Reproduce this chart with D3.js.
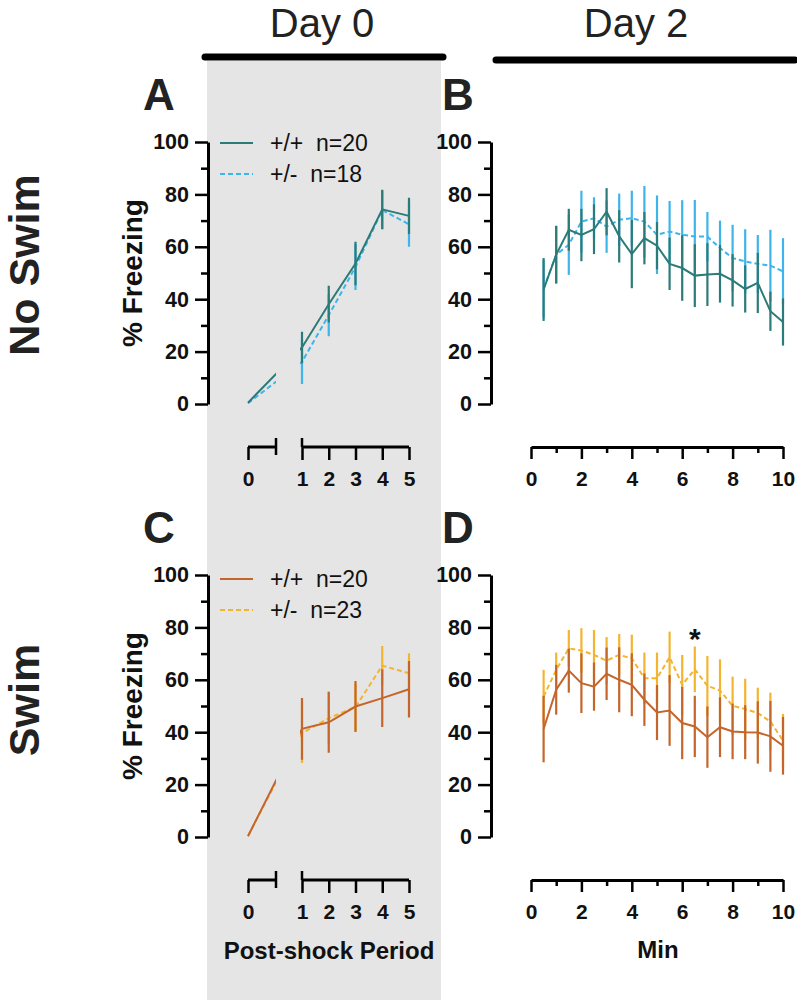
<!DOCTYPE html>
<html>
<head>
<meta charset="UTF-8">
<style>
  body { margin: 0; background: #fff; }
  svg { display: block; font-family: "Liberation Sans", Arial, sans-serif; }
</style>
</head>
<body>
<svg></svg>
<script src="https://d3js.org/d3.v7.min.js"></script>
<script>

// ---- data ----
// Day 0, post-shock periods (0 = pre-shock baseline)
let periods = [0, 1, 2, 3, 4, 5];
let periodTicks = [0, 1, 2, 3, 4, 5];

// A: No Swim, Day 0
let aWT = [0.5, 21.6, 38.1, 53.6, 74.3, 71.8];
let aWTsem = [0, 6, 7, 8.3, 7.5, 6.9];
let aHet = [0.3, 16.1, 33.9, 52.3, 74, 68.6];
let aHetSem = [0, 8.5, 8, 8.8, 7.4, 8.6];

// C: Swim, Day 0
let cWT = [0.3, 41.3, 43.8, 49.8, 53, 56.4];
let cWTsem = [0, 11.8, 11.6, 9.7, 11, 10.8];
let cHet = [0.5, 39.6, 45.4, 49.6, 65.4, 62.5];
let cHetSem = [0, 11.4, 10, 9, 7.5, 7.6];

// Day 2, 30 s bins
let minutes = [0.5, 1, 1.5, 2, 2.5, 3, 3.5, 4, 4.5, 5, 5.5, 6, 6.5, 7, 7.5, 8, 8.5, 9, 9.5, 10];
let minTicks = [0, 2, 4, 6, 8, 10];
let minMinor = [1, 3, 5, 7, 9];

// B: No Swim, Day 2
let bWT = [43.7, 57, 66.5, 64.5, 66.7, 73.4, 64, 57.2, 63.3, 60.4, 53.5, 51.9, 49, 49.4, 49.7, 47.2, 43.9, 46.2, 35.4, 31.3];
let bWTsem = [12, 11, 8, 10, 9.5, 9, 10, 13, 10, 9, 10, 12.5, 12, 12, 11, 10, 9, 11.5, 7.5, 9];
let bHet = [44, 57, 60.8, 69.6, 70.9, 67.7, 70.3, 70.9, 69.6, 64.6, 65.8, 64.6, 63.9, 63.9, 59.5, 55.7, 54.4, 53.5, 52.8, 50.6];
let bHetSem = [11, 11, 11.5, 11.8, 8, 10, 10, 10.5, 13.6, 15, 11.7, 13.2, 14, 9.4, 10.5, 12.7, 12.3, 11, 13.7, 12.7];

// D: Swim, Day 2
let dWT = [41.2, 56.2, 63.5, 58.7, 57.4, 62.3, 60, 58.1, 52.4, 47.5, 48.3, 43.5, 42.2, 38.1, 41.9, 40.3, 40, 39.9, 38.4, 34.8];
let dWTsem = [12.7, 9.5, 8.4, 11.4, 9.2, 10, 12.4, 12, 10, 10.5, 13.5, 13.8, 11.7, 11.7, 11.4, 10.6, 10.3, 11.9, 13.5, 11];
let dHet = [53.6, 63.8, 72, 71.2, 69.5, 67.3, 69.5, 68.2, 60.6, 60.6, 68.6, 58.1, 64, 57.7, 55.9, 50.1, 48.8, 47.3, 44.1, 36.8];
let dHetSem = [10.2, 6.6, 7, 8.5, 9.5, 9, 8, 9, 9.8, 9.8, 9.8, 11.4, 8.7, 11.4, 11.9, 11.1, 11.6, 9.7, 11, 10.2];

let yTicks = [0, 20, 40, 60, 80, 100];
let yMinor = [10, 30, 50, 70, 90];

let legendNoSwim = ["+/+  n=20", "+/-  n=18"];
let legendSwim = ["+/+  n=20", "+/-  n=23"];

let teal = "#2b7b78", sky = "#3db4ea", rust = "#c4662b", gold = "#f3b430";

// ---- setup ----
let width = 797, height = 1000;
let svg = d3.select("svg").attr("width", width).attr("height", height);

// grey band behind Day 0
svg.append("rect")
  .attr("x", 207).attr("y", 61).attr("width", 234).attr("height", 939)
  .attr("fill", "#e5e5e5");

// column headers
[["Day 0", 322, 205, 443, 57], ["Day 2", 636, 496, 795, 60]].forEach(h => {
  svg.append("text").attr("x", h[1]).attr("y", 37)
    .attr("text-anchor", "middle").attr("font-size", 40).attr("fill", "#222").text(h[0]);
  svg.append("line").attr("x1", h[2]).attr("x2", h[3]).attr("y1", h[4]).attr("y2", h[4])
    .attr("stroke", "black").attr("stroke-width", 7).attr("stroke-linecap", "round");
});

// row labels
[["No Swim", 265], ["Swim", 700]].forEach(r => {
  svg.append("text").attr("transform", `translate(39,${r[1]}) rotate(-90)`)
    .attr("text-anchor", "middle").attr("font-size", 43).attr("font-weight", "bold")
    .attr("fill", "#222").text(r[0]);
});

// panel letters
[["A", 159, 110], ["B", 458, 110], ["C", 159, 543], ["D", 458, 543]].forEach(p => {
  svg.append("text").attr("x", p[1]).attr("y", p[2]).attr("text-anchor", "middle")
    .attr("font-size", 44).attr("font-weight", "bold").attr("fill", "#222").text(p[0]);
});

// ---- scales ----
let yTop = d3.scaleLinear().domain([0, 100]).range([404, 142]);
let yBot = d3.scaleLinear().domain([0, 100]).range([837, 575]);
let xPer = d3.scaleLinear().domain([0, 1, 5]).range([248, 302, 409]);
let xMin = d3.scaleLinear().domain([0, 10]).range([531, 783]);
let breakX = 276;

function styleAxis(g, fs) {
  g.selectAll("path.domain").attr("stroke", "black").attr("stroke-width", 3);
  g.selectAll(".tick line").attr("stroke", "black").attr("stroke-width", 2.5);
  g.selectAll(".tick text").attr("font-size", fs).attr("font-weight", "bold")
    .attr("fill", "#111").attr("font-family", "Liberation Sans, Arial, sans-serif");
}

function yAxis(x, y) {
  let g = svg.append("g").attr("transform", `translate(${x},0)`);
  g.call(d3.axisLeft(y).tickValues(yTicks).tickSize(13).tickSizeOuter(0).tickPadding(6));
  let m = g.append("g").call(d3.axisLeft(y).tickValues(yMinor).tickSize(7).tickFormat(""));
  m.select(".domain").remove();
  styleAxis(g, 21.5);
}

function periodAxis(yPos) {
  let g = svg.append("g").attr("transform", `translate(0,${yPos})`);
  g.call(d3.axisBottom(xPer).tickValues(periodTicks).tickFormat(d3.format("d"))
    .tickSize(13).tickPadding(11));
  g.select(".domain").remove();
  styleAxis(g, 21);
  // two axis segments with a break
  [[xPer(0), breakX], [xPer(1), xPer(5)]].forEach(s => {
    g.append("line").attr("x1", s[0]).attr("x2", s[1]).attr("y1", 0).attr("y2", 0)
      .attr("stroke", "black").attr("stroke-width", 3);
  });
  g.append("line").attr("x1", breakX).attr("x2", breakX).attr("y1", -9).attr("y2", 8)
    .attr("stroke", "black").attr("stroke-width", 2.5);
  g.append("line").attr("x1", xPer(1)).attr("x2", xPer(1)).attr("y1", -9).attr("y2", 0)
    .attr("stroke", "black").attr("stroke-width", 2.5);
}

function minuteAxis(yPos) {
  let g = svg.append("g").attr("transform", `translate(0,${yPos})`);
  g.call(d3.axisBottom(xMin).tickValues(minTicks).tickSize(12).tickSizeOuter(0).tickPadding(12));
  let m = g.append("g").call(d3.axisBottom(xMin).tickValues(minMinor).tickSize(6).tickFormat(""));
  m.select(".domain").remove();
  styleAxis(g, 21);
}

// clip for the Day 0 axis break
let clip = svg.append("clipPath").attr("id", "gap");
clip.append("rect").attr("x", 0).attr("y", 0).attr("width", breakX).attr("height", height);
clip.append("rect").attr("x", 300).attr("y", 0).attr("width", width - 300).attr("height", height);

function series(xs, means, sems, x, y, color, dashed, clipped) {
  let g = svg.append("g");
  if (clipped) g.attr("clip-path", "url(#gap)");
  let pts = xs.map((d, i) => [d, means[i], sems[i]]);
  g.selectAll("line.err").data(pts.filter(d => d[2] > 0)).enter().append("line")
    .attr("x1", d => x(d[0])).attr("x2", d => x(d[0]))
    .attr("y1", d => y(d[1] - d[2])).attr("y2", d => y(d[1] + d[2]))
    .attr("stroke", color).attr("stroke-width", 2.2);
  g.append("path").datum(pts)
    .attr("d", d3.line().x(d => x(d[0])).y(d => y(d[1])))
    .attr("fill", "none").attr("stroke", color).attr("stroke-width", 2)
    .attr("stroke-dasharray", dashed ? "5,3" : null);
}

function legend(x, y, labels, c1, c2) {
  [[labels[0], c1, null], [labels[1], c2, "5,3"]].forEach((l, i) => {
    let yy = y + i * 31;
    svg.append("line").attr("x1", x).attr("x2", x + 33).attr("y1", yy).attr("y2", yy)
      .attr("stroke", l[1]).attr("stroke-width", 2).attr("stroke-dasharray", l[2]);
    svg.append("text").attr("x", x + 50).attr("y", yy + 8).attr("font-size", 23)
      .style("white-space", "pre").attr("fill", "#111").text(l[0]);
  });
}

// ---- panel A ----
series(periods, aHet, aHetSem, xPer, yTop, sky, true, true);
series(periods, aWT, aWTsem, xPer, yTop, teal, false, true);
yAxis(208, yTop);
periodAxis(447);
legend(220, 143, legendNoSwim, teal, sky);

// ---- panel B ----
series(minutes, bHet, bHetSem, xMin, yTop, sky, true, false);
series(minutes, bWT, bWTsem, xMin, yTop, teal, false, false);
yAxis(491, yTop);
minuteAxis(447);

// ---- panel C ----
series(periods, cHet, cHetSem, xPer, yBot, gold, true, true);
series(periods, cWT, cWTsem, xPer, yBot, rust, false, true);
yAxis(208, yBot);
periodAxis(880);
legend(220, 579, legendSwim, rust, gold);

// ---- panel D ----
series(minutes, dHet, dHetSem, xMin, yBot, gold, true, false);
series(minutes, dWT, dWTsem, xMin, yBot, rust, false, false);
yAxis(491, yBot);
minuteAxis(880);

// significance mark at 6.5 min
svg.append("text").attr("x", xMin(6.5)).attr("y", yBot(78) + 16)
  .attr("text-anchor", "middle").attr("font-size", 30).attr("font-weight", "bold")
  .attr("fill", "#111").text("*");

// y axis titles
[yTop, yBot].forEach(y => {
  svg.append("text").attr("transform", `translate(142,${(y(0) + y(100)) / 2}) rotate(-90)`)
    .attr("text-anchor", "middle").attr("font-size", 28).attr("font-weight", "bold")
    .attr("fill", "#111").text("% Freezing");
});

// x axis titles
svg.append("text").attr("x", 329).attr("y", 959).attr("text-anchor", "middle")
  .attr("font-size", 24).attr("font-weight", "bold").attr("fill", "#111").text("Post-shock Period");
svg.append("text").attr("x", 658).attr("y", 958).attr("text-anchor", "middle")
  .attr("font-size", 24).attr("font-weight", "bold").attr("fill", "#111").text("Min");

</script>
</body>
</html>
